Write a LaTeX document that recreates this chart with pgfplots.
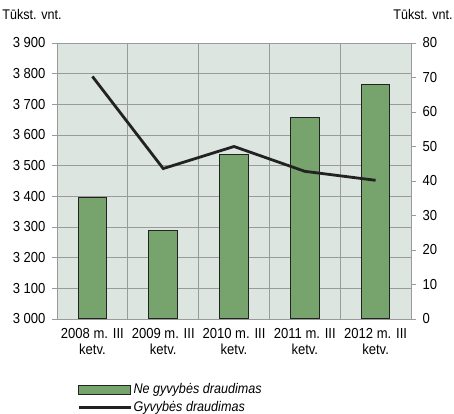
\documentclass[border=0pt]{standalone}
\usepackage{fontspec}
\setmainfont[FakeStretch=0.9]{Liberation Sans}
\usepackage{pgfplots}
\pgfplotsset{compat=1.18}

\definecolor{plotbg}{HTML}{DDE5E0}
\definecolor{barfill}{HTML}{76A46C}
\definecolor{gridgray}{HTML}{9A9A9A}
\definecolor{linedark}{HTML}{222222}

\pgfplotsset{
  common/.style={
    scale only axis, width=354pt, height=276pt,
    xmin=-0.5, xmax=4.5,
    tick align=outside,
    tick style={gridgray, line width=0.8pt},
    major tick length=5pt, minor tick length=5pt,
    axis line style={gridgray, line width=0.9pt},
    tick label style={font=\fontsize{14.5}{16}\selectfont},
    /pgf/number format/assume math mode=true,
    /pgf/number format/1000 sep={\ },
  },
}

\begin{document}
\begin{tikzpicture}
\begin{axis}[common, name=ax,
    axis background/.style={fill=plotbg},
    ymin=3000, ymax=3900, ytick={3000,3100,...,3900},
    axis y line*=left,
    axis x line*=bottom,
    xtick={0,1,2,3,4},
    xticklabels={{2008 m. III\\ketv.},{2009 m. III\\ketv.},{2010 m. III\\ketv.},{2011 m. III\\ketv.},{2012 m. III\\ketv.}},
    xticklabel style={align=center, yshift=-1pt, font=\fontsize{14.5}{16}\selectfont},
    x tick style={draw=none},
    minor xtick={-0.5,0.5,1.5,2.5,3.5,4.5},
    minor x tick style={gridgray, line width=0.8pt},
    ymajorgrids, xminorgrids,
    grid style={gridgray, line width=0.8pt},
    minor grid style={gridgray, line width=0.8pt},
    ytick style={gridgray},
    yticklabel style={xshift=-3pt},
    legend style={at={(20pt,-63pt)}, anchor=north west, draw=none, fill=none,
      font=\fontsize{14}{16}\selectfont\itshape, row sep=3pt,
      inner sep=0pt, nodes={inner sep=1.5pt}},
    legend cell align=left,
]
\addplot[ybar, bar width=0.405, fill=barfill, draw=linedark, line width=1.1pt,
  legend image code/.code={\draw[fill=barfill, draw=linedark, line width=1pt] (0pt,-4.5pt) rectangle (52pt,4.5pt);}]
  coordinates {(0,3395)(1,3288)(2,3537)(3,3656)(4,3764)};
\addlegendentry{Ne gyvybės draudimas}
\addlegendimage{linedark, line width=2.8pt,
  legend image code/.code={\draw[linedark, line width=2.8pt] (0pt,0pt) -- (52pt,0pt);}}
\addlegendentry{Gyvybės draudimas}
\end{axis}
\begin{axis}[common,
    ymin=0, ymax=80, ytick={0,10,...,80},
    axis y line*=right,
    axis x line=none,
    yticklabel style={xshift=3pt},
]
\addplot[linedark, line width=2.8pt] coordinates {(0,70.3)(1,43.6)(2,50.0)(3,42.8)(4,40.2)};
\end{axis}
\node[font=\fontsize{14}{15}\selectfont] at ([xshift=-25pt, yshift=28pt]ax.north west) {Tūkst. vnt.};
\node[font=\fontsize{14}{15}\selectfont] at ([xshift=12pt, yshift=28pt]ax.north east) {Tūkst. vnt.};
\pgfresetboundingbox
\path ([xshift=-57pt, yshift=-95pt]ax.south west) rectangle ([xshift=43pt, yshift=43pt]ax.north east);
\end{tikzpicture}
\end{document}
